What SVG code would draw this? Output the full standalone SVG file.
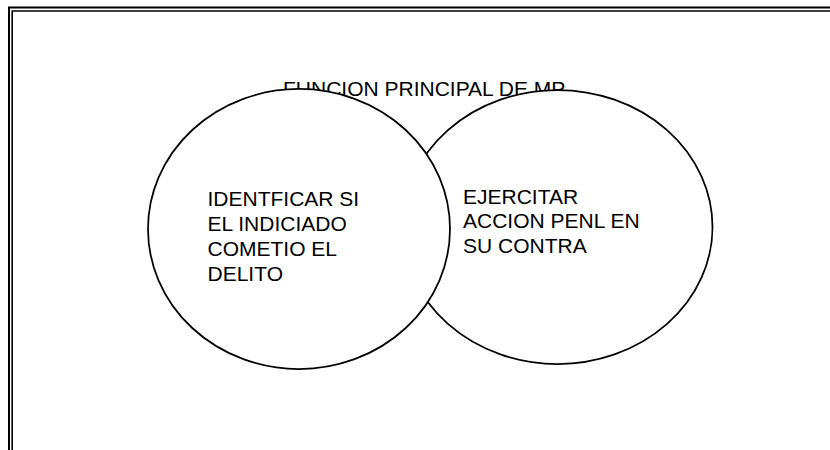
<svg xmlns="http://www.w3.org/2000/svg" width="830" height="450" viewBox="0 0 830 450">
<style>
.frame{fill:none;stroke:#000}
.shape{fill:#fff;stroke:#000;stroke-width:1.75}
text{font-family:"Liberation Sans",Arial,sans-serif;font-size:21px;fill:#000}
</style>
<rect width="830" height="450" fill="#fff"/>
<g id="frame">
<path class="frame" stroke-width="2" d="M9,450 V7.5 H830"/>
<path class="frame" stroke-width="1.6" d="M12.2,450 V11 H830"/>
</g>
<g id="title"><text x="283" y="96">FUNCION PRINCIPAL DE MP</text></g>
<g id="connectors"></g>
<g id="node-right">
<ellipse class="shape" cx="557.5" cy="227" rx="155" ry="137"/>
<text x="463" y="203.5">EJERCITAR</text>
<text x="463" y="228">ACCION PENL EN</text>
<text x="463" y="252.5">SU CONTRA</text>
</g>
<g id="node-left">
<ellipse class="shape" cx="299" cy="229" rx="151" ry="140"/>
<text x="207.5" y="206">IDENTFICAR SI</text>
<text x="207.5" y="231">EL INDICIADO</text>
<text x="207.5" y="256">COMETIO EL</text>
<text x="207.5" y="281">DELITO</text>
</g>
</svg>
